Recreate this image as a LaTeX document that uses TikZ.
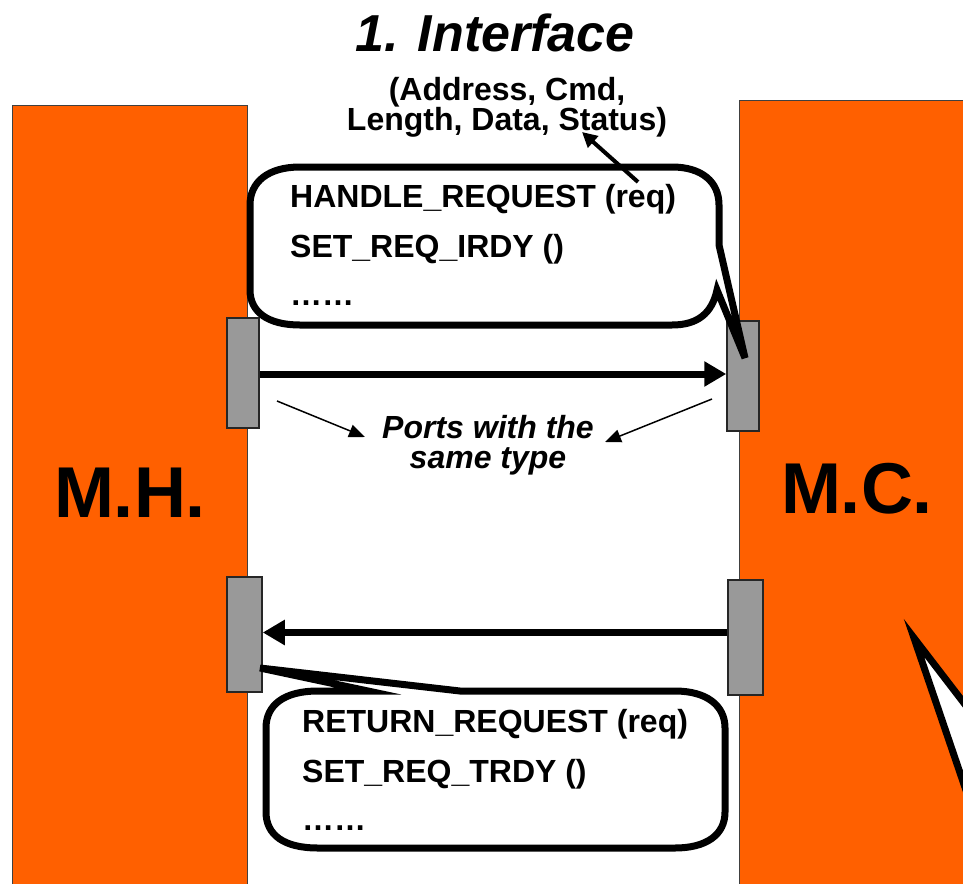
\documentclass[tikz,border=0pt]{standalone}
\usepackage{fontspec}
\setmainfont{Liberation Sans}
\usetikzlibrary{arrows.meta}
\definecolor{blockorange}{RGB}{255,96,0}
\definecolor{portgray}{RGB}{153,153,153}

\begin{document}
\begin{tikzpicture}[x=1pt,y=-1pt,
  block/.style={fill=blockorange, draw=black!75, line width=1pt},
  port/.style={rectangle, fill=portgray, draw=black!85, line width=1.5pt,
    inner sep=0pt, minimum width=32pt, minimum height=110pt},
  bubble/.style={fill=white, draw=black, line width=7pt},
  msg/.style={line width=7pt, -{Triangle[length=22pt,width=24pt]}},
  hint/.style={line width=1.5pt, -{Triangle[length=16pt,width=13pt]}},
  fieldarrow/.style={line width=4pt, -{Triangle[length=15pt,width=15pt]}},
  codetext/.style={anchor=base west, inner sep=0pt,
    font=\fontsize{32}{32}\selectfont\bfseries},
  note/.style={inner sep=0pt, align=center,
    font=\fontsize{32}{30}\selectfont\bfseries},
  big/.style={anchor=base, inner sep=0pt,
    font=\fontsize{72}{72}\selectfont\bfseries}
]
\useasboundingbox (0,0) rectangle (963,883);
\clip (0,0) rectangle (963,883);

% module blocks
\path[block] (12,105) rectangle (247,900);
\path[block] (739,100) rectangle (1000,900);

% block names
\node[big] (mh) at (130,517) {M.H.};
\node[big] (mc) at (857,513) {M.C.};

% ports
\node[port] (lp1) at (243,373) {};
\node[port] (rp1) at (743,376) {};
\node[port, minimum width=35pt, minimum height=115pt] (lp2) at (244.5,634.5) {};
\node[port, minimum width=35pt, minimum height=115pt] (rp2) at (745.5,637.5) {};

% transfers between ports
\draw[msg] ([yshift=-1pt]lp1.east) -- ([yshift=-1pt]lp1.east -| rp1.west);
\draw[msg] ([yshift=5pt]rp2.west) -- ([yshift=5pt]rp2.west -| lp2.east);

% request-side callout
\draw[bubble] (300,167) -- (672,167)
  .. controls (702,167) and (719,182) .. (719,205) -- (719,245)
  -- (745,358) -- (717,290)
  .. controls (712,313) and (698,325) .. (672,325) -- (300,325)
  .. controls (268,325) and (250,312) .. (250,290) -- (250,205)
  .. controls (250,182) and (268,167) .. (300,167) -- cycle;
\node[codetext] (hreq) at (290,207) {HANDLE\_REQUEST (req)};
\node[codetext] (sirdy) at (290,257) {SET\_REQ\_IRDY ()};
\node[codetext] (more1) at (290,305) {……};

% response-side callout
\draw[bubble] (318,691) -- (368,691) -- (260,668) -- (460,691) -- (675,691)
  .. controls (706,691) and (725,705) .. (725,728) -- (725,812)
  .. controls (725,835) and (706,848) .. (675,848) -- (318,848)
  .. controls (284,848) and (266,835) .. (266,812) -- (266,728)
  .. controls (266,705) and (284,691) .. (318,691) -- cycle;
\node[codetext] (rreq) at (302,732) {RETURN\_REQUEST (req)};
\node[codetext] (strdy) at (302,782) {SET\_REQ\_TRDY ()};
\node[codetext] (more2) at (302,830) {……};

% tail of a callout entering from the right
\draw[bubble] (914,638) -- (1000,750) -- (1000,890) -- cycle;

% title
\node[anchor=base, inner sep=0pt, font=\fontsize{52}{52}\selectfont\bfseries\itshape]
  (title) at (495,52) {1. Interface};

% request fields (base anchor sits on the last line)
\node[note, anchor=base] (fields) at (507,130) {(Address, Cmd,\\Length, Data, Status)};
\coordinate (reqin) at (638,182);
\coordinate (reqout) at (582,132);
\draw[fieldarrow] (reqin) -- (reqout);

% port type note
\node[note, font=\fontsize{32}{30}\selectfont\bfseries\itshape, anchor=base]
  (same) at (488,468) {Ports with the\\same type};
\coordinate (h1a) at (277,401);
\coordinate (h1b) at (365,437);
\coordinate (h2a) at (712,399);
\coordinate (h2b) at (605,442);
\draw[hint] (h1a) -- (h1b);
\draw[hint] (h2a) -- (h2b);
\end{tikzpicture}
\end{document}
